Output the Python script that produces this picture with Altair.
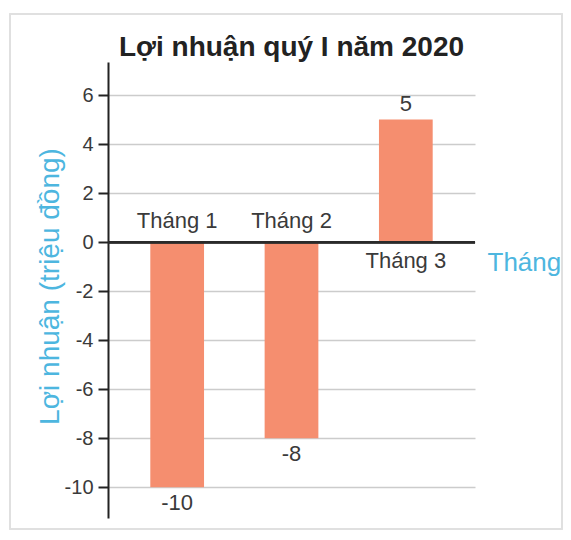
import altair as alt
import pandas as pd

months = ["Tháng 1", "Tháng 2", "Tháng 3"]
profits = [-10, -8, 5]
y_ticks = [-10, -8, -6, -4, -2, 0, 2, 4, 6]

df = pd.DataFrame({"month": months, "profit": profits})
df["label"] = df["profit"].astype(str)

FONT = "Liberation Sans"
BLUE = "#4db6df"
TEXT = "#3a3a3a"
W, H = 367, 456

x_enc = alt.X(
    "month:N",
    sort=months,
    scale=alt.Scale(paddingInner=0.53, paddingOuter=0.37),
    axis=alt.Axis(
        title="Tháng", labels=False, ticks=False, domain=False, grid=False,
        orient="bottom", titleX=379, titleY=-256, titleAlign="left",
        titleBaseline="middle", titleColor=BLUE, titleFontSize=26,
        titleFontWeight="normal", titleFont=FONT,
    ),
)

yscale = alt.Scale(domain=[-11.25, 7.35], nice=False, zero=False)
yaxis = alt.Axis(
    title="Lợi nhuận (triệu đồng)", values=y_ticks, grid=True,
    labelExpr="toString(datum.value)",
    gridColor="#cccccc", gridWidth=1.5, domainColor="#222", domainWidth=2,
    tickColor="#222", tickWidth=2, tickSize=10, labelFontSize=20,
    labelColor=TEXT, labelPadding=5, labelFont=FONT,
    titleColor=BLUE, titleFontSize=28, titleFontWeight="normal",
    titleFont=FONT, titleX=-58, titleY=224, titleAngle=270,
    titleAlign="center", titleBaseline="middle",
)

base = alt.Chart(df)

bars = base.mark_bar(color="#f58e6f").encode(
    x=x_enc, y=alt.Y("profit:Q", scale=yscale, axis=yaxis)
)

zero = base.mark_rule(color="#2a2a2a", strokeWidth=2.5).encode(
    y=alt.Y(datum=0, type="quantitative", scale=yscale, axis=yaxis)
)

txt = dict(font=FONT, color=TEXT)

month_neg = base.transform_filter("datum.profit < 0").mark_text(
    baseline="bottom", dy=-9, fontSize=22, **txt
).encode(x=x_enc, y=alt.Y(datum=0, type="quantitative", scale=yscale, axis=yaxis), text="month:N")

month_pos = base.transform_filter("datum.profit >= 0").mark_text(
    baseline="top", dy=9, fontSize=22, **txt
).encode(x=x_enc, y=alt.Y(datum=0, type="quantitative", scale=yscale, axis=yaxis), text="month:N")

val_neg = base.transform_filter("datum.profit < 0").mark_text(
    baseline="top", dy=6, fontSize=22, **txt
).encode(x=x_enc, y=alt.Y("profit:Q", scale=yscale, axis=yaxis), text="label:N")

val_pos = base.transform_filter("datum.profit >= 0").mark_text(
    baseline="bottom", dy=-4, fontSize=22, **txt
).encode(x=x_enc, y=alt.Y("profit:Q", scale=yscale, axis=yaxis), text="label:N")

frame = base.mark_rect(fill=None, stroke="#e0e0e0", strokeWidth=1.5, clip=False).encode(
    x=alt.value(-98), x2=alt.value(454), y=alt.value(-48), y2=alt.value(467)
)

chart = alt.layer(
    frame, bars, zero, month_neg, month_pos, val_neg, val_pos
).properties(
    width=W, height=H,
    title=alt.TitleParams(
        "Lợi nhuận quý I năm 2020", fontSize=28, fontWeight="bold",
        font=FONT, color="#222", anchor="middle", offset=-49,
    ),
    autosize=alt.AutoSizeParams(type="none"),
    padding={"left": 100, "top": 54, "right": 88, "bottom": 14},
).configure_view(stroke=None)

chart.save("out.html", embed_options={"renderer": "svg", "actions": False})
